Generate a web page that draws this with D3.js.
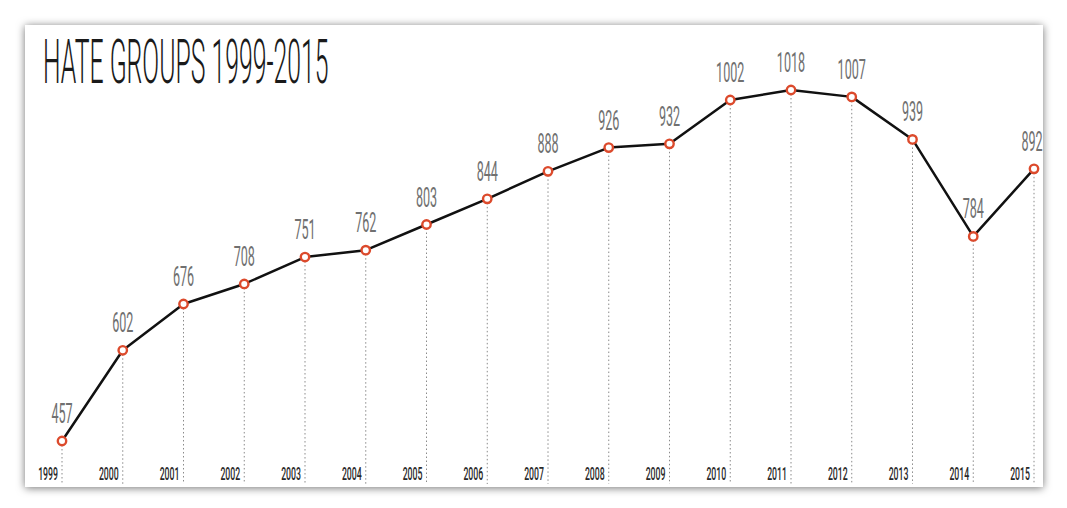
<!DOCTYPE html>
<html>
<head>
<meta charset="utf-8">
<script src="https://cdn.jsdelivr.net/npm/d3@7"></script>
<style>
  body { margin: 0; background: #fff; }
  svg { display: block; }
</style>
</head>
<body>
<div id="chart"></div>
<script>
var years = [1999, 2000, 2001, 2002, 2003, 2004, 2005, 2006, 2007, 2008, 2009, 2010, 2011, 2012, 2013, 2014, 2015];
var groups = [457, 602, 676, 708, 751, 762, 803, 844, 888, 926, 932, 1002, 1018, 1007, 939, 784, 892];
var chartTitle = 'HATE GROUPS 1999-2015';

var width = 1067;
var height = 508;

var svg = d3.select('#chart')
	.append('svg')
	.attr('width', width)
	.attr('height', height);

// drop shadow for the card
var filter = svg.append('defs').append('filter')
	.attr('id', 'shadow')
	.attr('x', '-5%').attr('y', '-10%')
	.attr('width', '110%').attr('height', '120%');
filter.append('feDropShadow')
	.attr('dx', 0).attr('dy', 1)
	.attr('stdDeviation', 4)
	.attr('flood-color', '#000')
	.attr('flood-opacity', 0.55);

svg.append('rect')
	.attr('x', 25).attr('y', 25)
	.attr('width', 1018).attr('height', 462)
	.attr('fill', '#fff')
	.attr('filter', 'url(#shadow)');

// scales
var x_scale = d3.scaleLinear()
	.domain([d3.min(years), d3.max(years)])
	.range([62, 1034]);
var y_scale = d3.scaleLinear()
	.domain([457, 1018])
	.range([441, 90]);

var data = years.map(function(y, i){ return {year: y, value: groups[i]}; });

// title (squeezed sideways to get the condensed look)
svg.append('text')
	.attr('transform', 'translate(43,83) scale(0.4,1)')
	.attr('font-family', 'Roboto')
	.attr('font-weight', 300)
	.attr('font-size', 62)
	.attr('fill', '#1a1a1a')
	.text(chartTitle);

// dotted drop lines
svg.selectAll('.drop')
	.data(data)
	.enter()
	.append('line')
	.attr('class', 'drop')
	.attr('x1', function(d){ return x_scale(d.year); })
	.attr('x2', function(d){ return x_scale(d.year); })
	.attr('y1', function(d){ return y_scale(d.value); })
	.attr('y2', 484)
	.attr('stroke', '#8a8a8a')
	.attr('stroke-width', 1)
	.attr('stroke-dasharray', '1.5,2.5');

// line
var line = d3.line()
	.x(function(d){ return x_scale(d.year); })
	.y(function(d){ return y_scale(d.value); });

svg.append('path')
	.datum(data)
	.attr('d', line)
	.attr('fill', 'none')
	.attr('stroke', '#111')
	.attr('stroke-width', 2.5)
	.attr('stroke-linejoin', 'round');

// markers
svg.selectAll('circle')
	.data(data)
	.enter()
	.append('circle')
	.attr('cx', function(d){ return x_scale(d.year); })
	.attr('cy', function(d){ return y_scale(d.value); })
	.attr('r', 4.2)
	.attr('fill', '#fff')
	.attr('stroke', '#dc4a2c')
	.attr('stroke-width', 2.4);

// value labels
svg.selectAll('.val')
	.data(data)
	.enter()
	.append('text')
	.attr('class', 'val')
	.attr('transform', function(d){
		var tx = Math.min(x_scale(d.year), 1032);
		return 'translate(' + tx + ',' + (y_scale(d.value) - 18) + ') scale(0.45,1)';
	})
	.attr('text-anchor', 'middle')
	.attr('font-family', 'Roboto')
	.attr('font-size', 28)
	.attr('fill', '#707070')
	.text(function(d){ return d.value; });

// year labels
svg.selectAll('.yr')
	.data(data)
	.enter()
	.append('text')
	.attr('class', 'yr')
	.attr('transform', function(d){
		return 'translate(' + (x_scale(d.year) - 4) + ',480) scale(0.46,1)';
	})
	.attr('text-anchor', 'end')
	.attr('font-family', 'Roboto')
	.attr('font-weight', 500)
	.attr('font-size', 19)
	.attr('fill', '#2a2a2a')
	.text(function(d){ return d.year; });
</script>
</body>
</html>
